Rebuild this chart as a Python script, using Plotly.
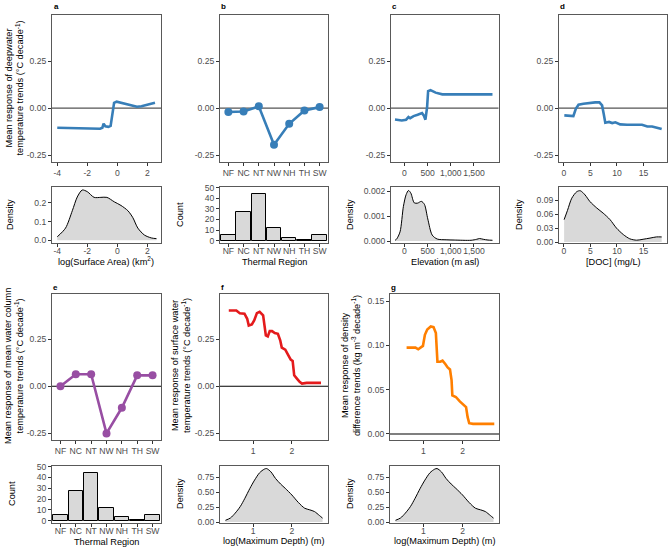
import plotly.graph_objects as go

W, H = 669, 549
FONT = "Liberation Sans, Arial, sans-serif"

# ---------------- data ----------------
# (a) surface area
sa_x = [-4.0, -3.0, -2.0, -1.15, -1.0, -0.92, -0.8, -0.6, -0.45, -0.3, -0.22, -0.05, 0.2, 0.45, 0.85, 1.3, 1.6, 1.9, 2.2, 2.5]
sa_resp = [-0.105, -0.106, -0.108, -0.11, -0.105, -0.083, -0.097, -0.1, -0.095, -0.02, 0.028, 0.034, 0.029, 0.022, 0.016, 0.007, 0.01, 0.017, 0.024, 0.028]
sa_dens_x = [-4.0, -3.45, -3.0, -2.67, -2.34, -2.0, -1.55, -1.1, -0.7, -0.2, 0.24, 0.7, 1.03, 1.36, 1.8, 2.25, 2.6]
sa_dens_y = [0.019, 0.065, 0.157, 0.23, 0.267, 0.258, 0.228, 0.228, 0.228, 0.204, 0.185, 0.157, 0.12, 0.065, 0.028, 0.013, 0.009]

# (b, e) thermal region
regions = ["NF", "NC", "NT", "NW", "NH", "TH", "SW"]
region_counts = [5, 27, 44, 12, 3, 1, 5]
region_resp_deep = [-0.021, -0.018, 0.009, -0.195, -0.084, -0.013, 0.005]
region_resp_mean = [0.0, 0.064, 0.064, -0.252, -0.115, 0.058, 0.058]

# (c) elevation
elev_x = [-204, -58, 36, 88, 124, 197, 285, 380, 416, 453, 489, 511, 562, 672, 818, 1073, 1500, 1900]
elev_resp = [-0.061, -0.066, -0.062, -0.048, -0.054, -0.043, -0.036, -0.027, -0.039, -0.062, 0.005, 0.09, 0.095, 0.082, 0.073, 0.073, 0.073, 0.073]
elev_dens_x = [-200, -168, -95, -22, 36, 88, 139, 212, 285, 365, 431, 504, 599, 708, 900, 1073, 1438, 1560, 1620, 1700, 1803, 1900]
elev_dens_y = [0.00003, 0.00008, 0.00037, 0.0014, 0.00187, 0.00204, 0.00193, 0.00154, 0.00153, 0.0016, 0.00148, 0.00089, 0.00024, 0.00008, 0.00005, 0.00004, 0.00003, 0.00007, 0.0001, 0.00007, 0.00004, 0.00003]

# (d) DOC
doc_x = [0.1, 1.8, 2.26, 2.77, 3.7, 4.65, 5.9, 6.7, 7.2, 7.5, 7.8, 8.5, 9.1, 9.7, 10.6, 11.9, 13.5, 14.7, 15.7, 16.6, 17.5, 18.4]
doc_resp = [-0.039, -0.043, -0.004, 0.018, 0.023, 0.027, 0.03, 0.03, 0.014, -0.03, -0.078, -0.074, -0.08, -0.076, -0.087, -0.089, -0.089, -0.089, -0.098, -0.098, -0.105, -0.112]
doc_dens_x = [0.06, 0.7, 1.5, 2.45, 3.1, 4.0, 4.9, 6.2, 7.4, 8.7, 9.9, 11.2, 12.4, 13.7, 14.9, 16.2, 17.4, 18.4]
doc_dens_y = [0.048, 0.068, 0.094, 0.108, 0.11, 0.101, 0.087, 0.073, 0.062, 0.048, 0.03, 0.016, 0.007, 0.004, 0.006, 0.0085, 0.011, 0.011]

# (f) surface water response vs log max depth
surf_x = [0.376, 0.57, 0.66, 0.78, 0.85, 0.89, 0.97, 1.03, 1.1, 1.17, 1.26, 1.29, 1.33, 1.38, 1.43, 1.49, 1.56, 1.64, 1.7, 1.74, 1.83, 1.91, 1.97, 2.02, 2.06, 2.13, 2.2, 2.26, 2.38, 2.75]
surf_resp = [0.404, 0.404, 0.39, 0.387, 0.36, 0.324, 0.33, 0.351, 0.39, 0.397, 0.378, 0.333, 0.271, 0.266, 0.294, 0.294, 0.284, 0.28, 0.245, 0.206, 0.195, 0.165, 0.142, 0.135, 0.0585, 0.041, 0.023, 0.014, 0.018, 0.018]

# (g) density difference response vs log max depth
densd_x = [0.573, 0.8, 0.87, 0.93, 0.99, 1.04, 1.1, 1.19, 1.26, 1.32, 1.36, 1.43, 1.49, 1.56, 1.62, 1.68, 1.72, 1.74, 1.83, 1.93, 2.02, 2.09, 2.13, 2.17, 2.27, 2.81]
densd_resp = [0.0976, 0.0976, 0.0957, 0.0976, 0.0995, 0.112, 0.118, 0.1215, 0.1207, 0.114, 0.0816, 0.0816, 0.0828, 0.079, 0.0752, 0.0729, 0.0608, 0.0437, 0.0418, 0.0368, 0.0334, 0.0304, 0.019, 0.0122, 0.0114, 0.0114]

# log max depth density
depth_dens_x = [0.29, 0.42, 0.54, 0.67, 0.79, 0.92, 1.04, 1.17, 1.29, 1.35, 1.46, 1.58, 1.71, 1.83, 2.0, 2.17, 2.33, 2.46, 2.58, 2.71, 2.79]
depth_dens_y = [0.03, 0.07, 0.15, 0.26, 0.4, 0.567, 0.706, 0.83, 0.89, 0.9, 0.845, 0.733, 0.64, 0.567, 0.456, 0.328, 0.233, 0.206, 0.178, 0.111, 0.067]

# ---------------- helpers ----------------
BLUE, PURPLE, RED, ORANGE = "#377EB8", "#984EA3", "#E41A1C", "#FF7F00"
FILL = "#D9D9D9"
FRAME = "#595959"
TICK_SIZE = 8.6
TITLE_SIZE = 9.2


def xd(a, b):
    return [a / W, b / W]


def yd(top, bottom):
    return [1 - bottom / H, 1 - top / H]


def ax(domain, rng, anchor, tickvals=None, ticktext=None, **kw):
    d = dict(domain=domain, range=rng, anchor=anchor, showline=True, mirror=True,
             linecolor=FRAME, linewidth=1, ticks="outside", ticklen=3, tickwidth=1,
             tickcolor="#333333", showgrid=False, zeroline=False, fixedrange=True,
             tickangle=0, automargin=False,
             tickfont=dict(family=FONT, size=TICK_SIZE, color="#4D4D4D"))
    if tickvals is not None:
        d["tickvals"] = tickvals
        d["ticktext"] = ticktext
    d.update(kw)
    return d


fig = go.Figure()

resp_ticks = [-0.25, 0, 0.25]
resp_text = ["-0.25", "0.00", "0.25"]
resp_rng = [-0.287, 0.495]

# column geometry (pixels)
cols_r1 = {"a": (52, 161), "b": (220, 328), "c": (391, 498.5), "d": (559, 667)}
cols_r2 = {"e": (52, 161), "f": (220, 328), "g": (390, 499)}
R1T, R1B = (15, 162), (187, 243)
R2T, R2B = (293.5, 440), (466, 523)
SO = -3  # tick-label standoff for the lower (distribution) panels

layout = {}

# ---- a ----
layout["xaxis"] = ax(xd(*cols_r1["a"]), [-4.35, 2.9], "y", [-4, -2, 0, 2], ["-4", "-2", "0", "2"])
layout["yaxis"] = ax(yd(*R1T), resp_rng, "x", resp_ticks, resp_text)
layout["xaxis2"] = ax(xd(*cols_r1["a"]), [-4.35, 2.9], "y2", [-4, -2, 0, 2], ["-4", "-2", "0", "2"], ticklabelstandoff=SO)
layout["yaxis2"] = ax(yd(*R1B), [-0.014, 0.283], "x2", [0, 0.1, 0.2], ["0.0", "0.1", "0.2"])
fig.add_trace(go.Scatter(x=sa_x, y=sa_resp, mode="lines", line=dict(color=BLUE, width=2.6), xaxis="x", yaxis="y"))
fig.add_trace(go.Scatter(x=sa_dens_x, y=sa_dens_y, mode="lines", fill="tozeroy", fillcolor=FILL,
                         line=dict(color="black", width=1, shape="spline", smoothing=0.8), xaxis="x2", yaxis="y2"))

# ---- b ----
layout["xaxis3"] = ax(xd(*cols_r1["b"]), [-0.55, 6.55], "y3", type="category")
layout["yaxis3"] = ax(yd(*R1T), resp_rng, "x3", resp_ticks, resp_text)
layout["xaxis4"] = ax(xd(*cols_r1["b"]), [-0.55, 6.55], "y4", type="category", ticklabelstandoff=SO)
layout["yaxis4"] = ax(yd(*R1B), [-2.1, 50.5], "x4", [0, 10, 20, 30, 40, 50], ["0", "10", "20", "30", "40", "50"])
fig.add_trace(go.Scatter(x=regions, y=region_resp_deep, mode="lines+markers", line=dict(color=BLUE, width=2.6),
                         marker=dict(color=BLUE, size=8), xaxis="x3", yaxis="y3"))
fig.add_trace(go.Bar(x=regions, y=region_counts, width=0.95, marker=dict(color=FILL, line=dict(color="black", width=1)),
                     xaxis="x4", yaxis="y4"))

# ---- c ----
elev_tv = [0, 500, 1000, 1500]
elev_tt = ["0", "500", "1,000", "1,500"]
layout["xaxis5"] = ax(xd(*cols_r1["c"]), [-290, 2030], "y5", elev_tv, elev_tt)
layout["yaxis5"] = ax(yd(*R1T), resp_rng, "x5", resp_ticks, resp_text)
layout["xaxis6"] = ax(xd(*cols_r1["c"]), [-290, 2030], "y6", elev_tv, elev_tt, ticklabelstandoff=SO)
layout["yaxis6"] = ax(yd(*R1B), [-0.00008, 0.00218], "x6", [0, 0.001, 0.002], ["0.000", "0.001", "0.002"])
fig.add_trace(go.Scatter(x=elev_x, y=elev_resp, mode="lines", line=dict(color=BLUE, width=2.6), xaxis="x5", yaxis="y5"))
fig.add_trace(go.Scatter(x=elev_dens_x, y=elev_dens_y, mode="lines", fill="tozeroy", fillcolor=FILL,
                         line=dict(color="black", width=1, shape="spline", smoothing=0.8), xaxis="x6", yaxis="y6"))

# ---- d ----
doc_tv = [0, 5, 10, 15]
doc_tt = ["0", "5", "10", "15"]
layout["xaxis7"] = ax(xd(*cols_r1["d"]), [-0.9, 19.4], "y7", doc_tv, doc_tt)
layout["yaxis7"] = ax(yd(*R1T), resp_rng, "x7", resp_ticks, resp_text)
layout["xaxis8"] = ax(xd(*cols_r1["d"]), [-0.9, 19.4], "y8", doc_tv, doc_tt, ticklabelstandoff=SO)
layout["yaxis8"] = ax(yd(*R1B), [-0.002, 0.118], "x8", [0, 0.03, 0.06, 0.09], ["0.00", "0.03", "0.06", "0.09"])
fig.add_trace(go.Scatter(x=doc_x, y=doc_resp, mode="lines", line=dict(color=BLUE, width=2.6), xaxis="x7", yaxis="y7"))
fig.add_trace(go.Scatter(x=doc_dens_x, y=doc_dens_y, mode="lines", fill="tozeroy", fillcolor=FILL,
                         line=dict(color="black", width=1, shape="spline", smoothing=0.8), xaxis="x8", yaxis="y8"))

# ---- e ----
layout["xaxis9"] = ax(xd(*cols_r2["e"]), [-0.55, 6.55], "y9", type="category")
layout["yaxis9"] = ax(yd(*R2T), resp_rng, "x9", resp_ticks, resp_text)
layout["xaxis10"] = ax(xd(*cols_r2["e"]), [-0.55, 6.55], "y10", type="category", ticklabelstandoff=SO)
layout["yaxis10"] = ax(yd(*R2B), [-2.1, 50.5], "x10", [0, 10, 20, 30, 40, 50], ["0", "10", "20", "30", "40", "50"])
fig.add_trace(go.Scatter(x=regions, y=region_resp_mean, mode="lines+markers", line=dict(color=PURPLE, width=2.6),
                         marker=dict(color=PURPLE, size=8), xaxis="x9", yaxis="y9"))
fig.add_trace(go.Bar(x=regions, y=region_counts, width=0.95, marker=dict(color=FILL, line=dict(color="black", width=1)),
                     xaxis="x10", yaxis="y10"))

# ---- f ----
dep_rng = [0.15, 2.93]
layout["xaxis11"] = ax(xd(*cols_r2["f"]), dep_rng, "y11", [1, 2], ["1", "2"])
layout["yaxis11"] = ax(yd(*R2T), resp_rng, "x11", resp_ticks, resp_text)
layout["xaxis12"] = ax(xd(*cols_r2["f"]), dep_rng, "y12", [1, 2], ["1", "2"], ticklabelstandoff=SO)
layout["yaxis12"] = ax(yd(*R2B), [-0.015, 0.943], "x12", [0, 0.25, 0.5, 0.75], ["0.00", "0.25", "0.50", "0.75"])
fig.add_trace(go.Scatter(x=surf_x, y=surf_resp, mode="lines", line=dict(color=RED, width=2.6), xaxis="x11", yaxis="y11"))
fig.add_trace(go.Scatter(x=depth_dens_x, y=depth_dens_y, mode="lines", fill="tozeroy", fillcolor=FILL,
                         line=dict(color="black", width=1, shape="spline", smoothing=0.8), xaxis="x12", yaxis="y12"))

# ---- g ----
layout["xaxis13"] = ax(xd(*cols_r2["g"]), dep_rng, "y13", [1, 2], ["1", "2"])
layout["yaxis13"] = ax(yd(*R2T), [-0.0068, 0.1587], "x13", [0, 0.05, 0.10, 0.15], ["0.00", "0.05", "0.10", "0.15"])
layout["xaxis14"] = ax(xd(*cols_r2["g"]), dep_rng, "y14", [1, 2], ["1", "2"], ticklabelstandoff=SO)
layout["yaxis14"] = ax(yd(*R2B), [-0.015, 0.943], "x14", [0, 0.25, 0.5, 0.75], ["0.00", "0.25", "0.50", "0.75"])
fig.add_trace(go.Scatter(x=densd_x, y=densd_resp, mode="lines", line=dict(color=ORANGE, width=2.6), xaxis="x13", yaxis="y13"))
fig.add_trace(go.Scatter(x=depth_dens_x, y=depth_dens_y, mode="lines", fill="tozeroy", fillcolor=FILL,
                         line=dict(color="black", width=1, shape="spline", smoothing=0.8), xaxis="x14", yaxis="y14"))

# zero reference lines
shapes = []
for n, col in [("", "#555555"), ("3", "#555555"), ("5", "#555555"), ("7", "#555555"),
               ("9", "black"), ("11", "black"), ("13", "black")]:
    shapes.append(dict(type="line", xref=f"x{n} domain", yref=f"y{n}", x0=0, x1=1, y0=0, y1=0,
                       line=dict(color=col, width=1.2), layer="below"))

# text annotations
ann = []


def txt(text, x, y, angle=0, size=TITLE_SIZE, bold=False, xanchor="center"):
    ann.append(dict(text=f"<b>{text}</b>" if bold else text, x=x / W, y=1 - y / H, xref="paper", yref="paper",
                    showarrow=False, textangle=angle, xanchor=xanchor, yanchor="middle",
                    font=dict(family=FONT, size=size, color="black")))


dec = "(°C decade<sup>-1</sup>)"
txt(f"Mean response of deepwater<br>temperature trends {dec}", 14, 88.5, -90)
txt(f"Mean response of mean water column<br>temperature trends {dec}", 14, 366, -90)
txt(f"Mean response of surface water<br>temperature trends {dec}", 181, 366, -90)
txt("Mean response of density<br>difference trends (kg m<sup>-3</sup> decade<sup>-1</sup>)", 351, 366, -90)
for x, y in [(10, 215), (350, 215), (519, 215), (180, 494), (350, 494)]:
    txt("Density", x, y, -90)
for x, y in [(180, 215), (12, 494)]:
    txt("Count", x, y, -90)

txt("log(Surface Area) (km<sup>2</sup>)", 106.5, 261)
txt("Thermal Region", 274, 262)
txt("Elevation (m asl)", 445, 262)
txt("[DOC] (mg/L)", 613, 262)
txt("Thermal Region", 106.5, 542)
txt("log(Maximum Depth) (m)", 274, 541)
txt("log(Maximum Depth) (m)", 445, 541)

for letter, x, y in [("a", 52, 6), ("b", 219, 6), ("c", 390, 6), ("d", 558, 6),
                     ("e", 51, 287), ("f", 219, 287), ("g", 389, 287)]:
    txt(letter, x, y, 0, 8, True, "left")

fig.update_layout(
    width=W, height=H, margin=dict(l=0, r=0, t=0, b=0),
    paper_bgcolor="white", plot_bgcolor="white", showlegend=False,
    font=dict(family=FONT, size=TITLE_SIZE, color="black"),
    shapes=shapes, annotations=ann, bargap=0,
    **layout,
)

fig.write_html("out.html", config={"displayModeBar": False},
               post_script="document.body.style.margin='0';document.body.style.padding='0';")
